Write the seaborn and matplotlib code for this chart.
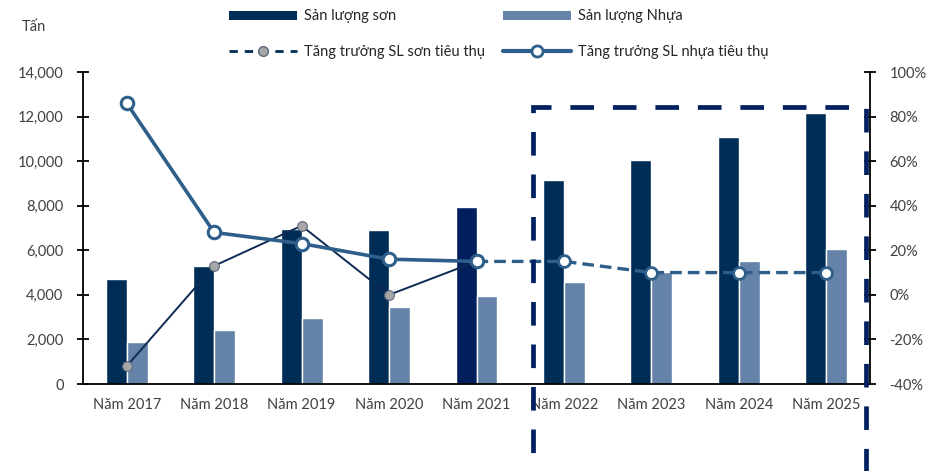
import matplotlib
matplotlib.use("Agg")
import matplotlib.pyplot as plt
import seaborn as sns
import pandas as pd
import numpy as np
from matplotlib.patches import Rectangle, Patch
from matplotlib.lines import Line2D
from matplotlib.ticker import FuncFormatter, MultipleLocator

years = ["Năm 2017", "Năm 2018", "Năm 2019", "Năm 2020", "Năm 2021",
         "Năm 2022", "Năm 2023", "Năm 2024", "Năm 2025"]
son_volume = [4700, 5300, 6950, 6900, 7950, 9150, 10050, 11070, 12150]
nhua_volume = [1870, 2420, 2980, 3440, 3960, 4580, 5020, 5520, 6070]
son_growth = [-32, 13, 31, 0, 15]          # 2017-2021
nhua_growth = [86, 28, 23, 16, 15]         # 2017-2021 (actual)
nhua_growth_fc = [15, 15, 10, 10, 10]      # 2021-2025 (forecast)

lbl_son = "Sản lượng sơn"
lbl_nhua = "Sản lượng Nhựa"
lbl_g_son = "Tăng trưởng SL sơn tiêu thụ"
lbl_g_nhua = "Tăng trưởng SL nhựa tiêu thụ"

C_SON = "#002d56"
C_SON_2021 = "#001f5c"
C_NHUA = "#6582a8"
C_LINE = "#2e5f8a"
C_BOX = "#002060"
C_TXT = "#404040"

sns.set_style("white")
plt.rcParams["font.family"] = ["Lato", "DejaVu Sans"]

df = pd.DataFrame({
    "year": years * 2,
    "value": son_volume + nhua_volume,
    "series": [lbl_son] * len(years) + [lbl_nhua] * len(years),
})

fig = plt.figure(figsize=(9.44, 4.71), dpi=100)
ax = fig.add_axes([83 / 944, 1 - 384 / 471, (870 - 83) / 944, (384 - 72) / 471])

sns.barplot(data=df, x="year", y="value", hue="series", order=years,
            hue_order=[lbl_son, lbl_nhua], palette=[C_SON, C_NHUA],
            width=0.48, ax=ax, legend=False, saturation=1, zorder=2)
ax.containers[0][4].set_facecolor(C_SON_2021)

ax.set_ylim(0, 14000)
ax.set_xlim(-0.5, len(years) - 0.5)
ax.yaxis.set_major_locator(MultipleLocator(2000))
ax.yaxis.set_major_formatter(FuncFormatter(lambda v, p: f"{int(v):,}"))
ax.set_xlabel("")
ax.set_ylabel("")
ax.set_xticks(range(len(years)))
ax.set_xticklabels(years)
ax.set_xticks(np.arange(-0.5, len(years), 1.0), minor=True)
ax.tick_params(axis="x", which="major", length=0, pad=10, labelsize=10.5, labelcolor=C_TXT)
ax.tick_params(axis="x", which="minor", direction="in", length=5, width=1.3, color="black")
ax.tick_params(axis="y", direction="inout", length=8, width=1.3, color="black",
               labelsize=10.5, labelcolor=C_TXT, pad=10)
for s in ["top", "right"]:
    ax.spines[s].set_visible(False)
for s in ["left", "bottom"]:
    ax.spines[s].set_color("black")
    ax.spines[s].set_linewidth(1.3)

ax2 = ax.twinx()
x_act = list(range(5))
x_fc = list(range(4, 9))
sns.lineplot(x=x_fc, y=nhua_growth_fc, ax=ax2, color=C_LINE, lw=2.4,
             linestyle=(0, (3.5, 1.8)), marker="o", markersize=8.5,
             markerfacecolor="white", markeredgecolor=C_LINE, markeredgewidth=2, zorder=4)
sns.lineplot(x=x_act, y=son_growth, ax=ax2, color="#0d2b55", lw=1.4,
             marker="o", markersize=7, markerfacecolor="#a6a6a6",
             markeredgecolor="#5a6a80", markeredgewidth=0.8, zorder=5)
sns.lineplot(x=x_act, y=nhua_growth, ax=ax2, color=C_LINE, lw=2.6,
             marker="o", markersize=9, markerfacecolor="white",
             markeredgecolor=C_LINE, markeredgewidth=2.2, zorder=6)
ax2.set_ylim(-40, 100)
ax2.yaxis.set_major_locator(MultipleLocator(20))
ax2.yaxis.set_major_formatter(FuncFormatter(lambda v, p: f"{int(v)}%"))
ax2.tick_params(axis="y", direction="inout", length=8, width=1.3, color="black",
                labelsize=10.5, labelcolor=C_TXT, pad=10)
for s in ["top", "left", "bottom"]:
    ax2.spines[s].set_visible(False)
ax2.spines["right"].set_color("black")
ax2.spines["right"].set_linewidth(1.3)
ax2.set_ylabel("")
ax2.set_xlim(-0.5, len(years) - 0.5)

# forecast dashed box
x0 = 4.65
rect = Rectangle((x0, -5000), (len(years) - 0.5) - x0 - 0.05, 12430 + 5000,
                 fill=False, edgecolor=C_BOX, lw=3.4, linestyle=(0, (5, 4)),
                 clip_on=False, zorder=10)
ax2.add_patch(rect)
rect.set_transform(ax.transData)

fig.text(22 / 944, 1 - 27 / 471, "Tấn", fontsize=10.5, color="#404040", va="center")

handles = [
    Patch(facecolor=C_SON, edgecolor="none"),
    Line2D([], [], color=C_SON, lw=2, linestyle=(0, (3, 2.5)), marker="o",
           markersize=7, markerfacecolor="#a6a6a6", markeredgecolor="#5a6a80"),
    Patch(facecolor=C_NHUA, edgecolor="none"),
    Line2D([], [], color=C_LINE, lw=3, marker="o", markersize=8,
           markerfacecolor="white", markeredgecolor=C_LINE, markeredgewidth=2),
]
labels = [lbl_son, lbl_g_son, lbl_nhua, lbl_g_nhua]
leg = fig.legend(handles, labels, ncol=2, loc="upper left",
                 bbox_to_anchor=(222 / 944, 1 - 2 / 471), frameon=False,
                 fontsize=10.5, handlelength=4.65, handleheight=0.55,
                 handletextpad=0.5, columnspacing=1.2, labelspacing=1.5,
                 borderpad=0, labelcolor="#262626")

fig.savefig("out.png", dpi=100)
